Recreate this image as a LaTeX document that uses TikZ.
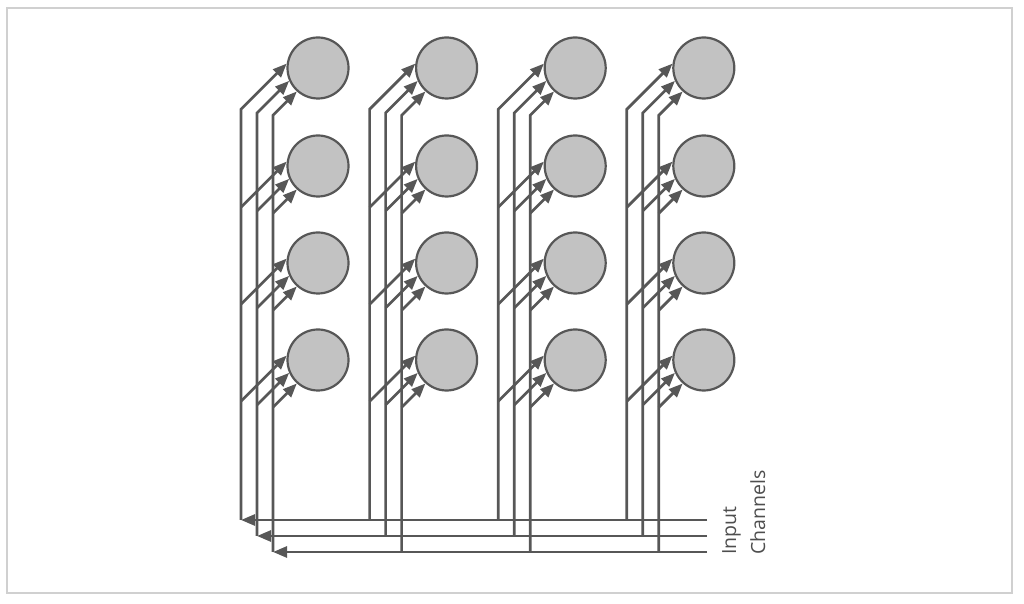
\documentclass[tikz,border=0pt]{standalone}
\usepackage{fontspec}
\setsansfont{Open Sans}
\usepackage{tikz}
\usetikzlibrary{calc,arrows.meta}
\definecolor{wire}{HTML}{575757}
\definecolor{cellgray}{HTML}{C2C2C2}
\definecolor{framegray}{HTML}{D0D0D0}

\begin{document}
\begin{tikzpicture}[x=1pt,y=1pt,
		cell/.style={circle,draw=wire,fill=cellgray,line width=2.2pt,minimum size=61pt,inner sep=0pt},
		link/.style={wire,line width=2.7pt,-{Triangle[length=14pt,width=11pt]}}]
		\useasboundingbox (0,0) rectangle (1024,604);
		\draw[framegray,line width=1.5pt] (7,11) rectangle (1012,596);
		
		% input channels
		\foreach \k/\y in {0/84,1/68,2/52} {
		\coordinate (in\k) at (707,\y);
		\coordinate (end\k) at (241+16*\k,\y);
		\draw[link] (in\k) -- (end\k);
		}
		\node[rotate=90,anchor=north west,inner sep=0pt,align=left,text=wire!90!black,
		font=\sffamily\fontsize{19.5}{29}\selectfont] (lab) at (722,49) {Input\\Channels};
		
		% cells
		\foreach \c in {1,...,4}
		\foreach \r/\y in {1/536,2/438,3/341,4/244}
		\node[cell] (n\c\r) at ({318+128.6*(\c-1)},\y) {};
		
		% each channel goes up in every column and bends into the top cell
		\foreach \c in {1,...,4}
		\foreach \k/\a in {0/172,1/204,2/228} {
		\draw[link] let \p1=(n\c1.\a), \p2=($(end\k)+({128.6*(\c-1)},0)$) in
		(\p2) -- (\x2,\y1-\x1+\x2) -- (\p1);
		\foreach \r in {2,3,4}
		\draw[link] let \p1=(n\c\r.\a), \p2=($(end\k)+({128.6*(\c-1)},0)$) in
		(\x2,\y1-\x1+\x2) -- (\p1);
		}
	\end{tikzpicture}
\end{document}
